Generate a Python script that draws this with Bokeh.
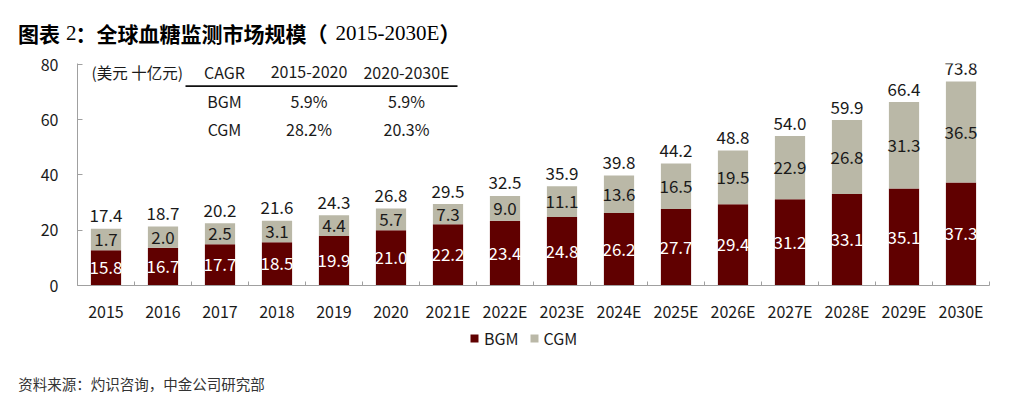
from bokeh.plotting import figure
from bokeh.models import ColumnDataSource, Range1d, FixedTicker, Legend, LegendItem
from bokeh.embed import file_html
from bokeh.resources import INLINE
from bokeh.core.properties import value

# ---------------- data ----------------
years = ["2015", "2016", "2017", "2018", "2019", "2020", "2021E", "2022E",
         "2023E", "2024E", "2025E", "2026E", "2027E", "2028E", "2029E", "2030E"]
bgm = [15.8, 16.7, 17.7, 18.5, 19.9, 21.0, 22.2, 23.4, 24.8, 26.2, 27.7, 29.4, 31.2, 33.1, 35.1, 37.3]
cgm = [1.7, 2.0, 2.5, 3.1, 4.4, 5.7, 7.3, 9.0, 11.1, 13.6, 16.5, 19.5, 22.9, 26.8, 31.3, 36.5]
total = [17.4, 18.7, 20.2, 21.6, 24.3, 26.8, 29.5, 32.5, 35.9, 39.8, 44.2, 48.8, 54.0, 59.9, 66.4, 73.8]
# segment heights as they are drawn in the reference picture
bgm_bar = [12.8, 13.7, 14.9, 15.7, 17.9, 20.0, 22.2, 23.4, 24.8, 26.2, 27.7, 29.4, 31.2, 33.1, 35.1, 37.3]
cgm_bar = [7.7, 7.7, 7.6, 7.7, 7.5, 7.9, 7.3, 9.0, 11.1, 13.6, 16.5, 19.5, 22.9, 26.8, 31.3, 36.5]

cagr_header = ["CAGR", "2015-2020", "2020-2030E"]
cagr_series = ["BGM", "CGM"]
cagr_1520 = ["5.9%", "28.2%"]
cagr_2030 = ["5.9%", "20.3%"]
unit_label = "(美元 十亿元)"
y_ticks = [0, 20, 40, 60, 80]
series_names = ["BGM", "CGM"]

title_parts = ["图表", "2", "：全球血糖监测市场规模（", "2015-2030E", "）"]
source_text = "资料来源：灼识咨询，中金公司研究部"

# ---------------- style / layout ----------------
FONT = "Noto Sans CJK SC"
SERIF = "Liberation Serif"
C_BGM = "#600000"
C_CGM = "#BAB8A7"
AXIS = "#A0A0A0"
TXT = "#1a1a1a"

W = 1008
H_HEAD, H_MAIN, H_FOOT = 52, 273, 67       # stacked roots: 0-52, 52-325, 325-392
FL, FT, FRAME_W, FRAME_H = 77, 11, 912, 223
FB = H_MAIN - FT - FRAME_H
FR = W - FL - FRAME_W
FRAME_TOP = H_HEAD + FT          # page y of frame top (63)
FRAME_BOT = FRAME_TOP + FRAME_H  # page y of frame bottom / zero line (286)
PPU = (FRAME_BOT - 64) / 80      # px per unit, 80 tick at page y 64
Y_END = (FRAME_BOT - FRAME_TOP) / PPU

n = len(years)
xs = [i + 0.5 for i in range(n)]


def dx(px):   # page px -> main data x
    return (px - FL) / (FRAME_W / n)


def dy(py):   # page px -> main data y
    return (FRAME_BOT - py) / PPU


def blank_fig(h, y0):
    f = figure(width=W, height=h, output_backend="svg", toolbar_location=None,
               x_range=Range1d(0, W), y_range=Range1d(y0 + h, y0),
               x_axis_type=None, y_axis_type=None,
               min_border=0, min_border_left=0, min_border_right=0,
               min_border_top=0, min_border_bottom=0)
    f.outline_line_color = None
    f.background_fill_color = "white"
    f.border_fill_color = "white"
    return f


# ---------------- header (title, mixed fonts) ----------------
head = blank_fig(H_HEAD, 0)
title_x = [17.5, 65.5, 75, 335, 439]
title_fonts = [FONT, SERIF, FONT, SERIF, FONT]
title_styles = ["bold", "normal", "bold", "normal", "bold"]
for t, tx, f, st in zip(title_parts, title_x, title_fonts, title_styles):
    head.text(x=[tx], y=[32], text=[t], text_font=value(f), text_font_style=st,
              text_font_size="21px", text_color="black", text_align="left",
              text_baseline="middle")

# ---------------- main chart ----------------
stack_top = [a + b for a, b in zip(bgm_bar, cgm_bar)]
src = ColumnDataSource(dict(
    x=xs,
    zero=[0] * n,
    bgm_top=bgm_bar,
    stack_top=stack_top,
    bgm_mid=[a / 2 for a in bgm_bar],
    cgm_mid=[a + b / 2 for a, b in zip(bgm_bar, cgm_bar)],
    bgm_lbl=["%.1f" % v for v in bgm],
    cgm_lbl=["%.1f" % v for v in cgm],
    tot_lbl=["%.1f" % v for v in total],
))

p = figure(width=W, height=H_MAIN, output_backend="svg", toolbar_location=None,
           x_range=Range1d(0, n), y_range=Range1d(0, Y_END),
           min_border_left=FL, min_border_right=FR, min_border_top=FT, min_border_bottom=FB)
p.outline_line_color = None
p.xgrid.visible = False
p.ygrid.visible = False
p.background_fill_color = "white"
p.border_fill_color = "white"

p.vbar(x="x", width=0.53, bottom="zero", top="bgm_top", fill_color=C_BGM,
       line_color=None, source=src)
p.vbar(x="x", width=0.53, bottom="bgm_top", top="stack_top", fill_color=C_CGM,
       line_color=None, source=src)

p.text(x="x", y="bgm_mid", text="bgm_lbl", source=src, text_font=value(FONT),
       text_font_size="17px", text_color="white", text_align="center", text_baseline="middle")
p.text(x="x", y="cgm_mid", text="cgm_lbl", source=src, text_font=value(FONT),
       text_font_size="17px", text_color=TXT, text_align="center", text_baseline="middle")
p.text(x="x", y="stack_top", text="tot_lbl", source=src, text_font=value(FONT),
       text_font_size="17px", text_color=TXT, text_align="center", text_baseline="middle",
       y_offset=-13)

yax = p.yaxis[0]
yax.ticker = FixedTicker(ticks=y_ticks)
yax.axis_line_color = AXIS
yax.major_tick_line_color = AXIS
yax.major_tick_in = 5
yax.major_tick_out = 0
yax.minor_tick_line_color = None
yax.major_label_text_font = FONT
yax.major_label_text_font_size = "16px"
yax.major_label_text_color = TXT
yax.major_label_standoff = 19

xax = p.xaxis[0]
xax.ticker = FixedTicker(ticks=xs, minor_ticks=list(range(n + 1)))
xax.major_label_overrides = {x: y for x, y in zip(xs, years)}
xax.axis_line_color = AXIS
xax.major_tick_line_color = None
xax.major_tick_in = 0
xax.major_tick_out = 0
xax.minor_tick_line_color = AXIS
xax.minor_tick_in = 4
xax.minor_tick_out = 0
xax.major_label_text_font = FONT
xax.major_label_text_font_size = "16px"
xax.major_label_text_color = TXT
xax.major_label_standoff = 13

# CAGR table (inside the frame)
p.text(x=[dx(91)], y=[dy(72)], text=[unit_label], text_font=value(FONT),
       text_font_size="15.5px", text_color=TXT, text_align="left", text_baseline="middle")
col_x = [224, 308.5, 406]
p.text(x=[dx(c) for c in col_x], y=[dy(72)] * 3, text=cagr_header, text_font=value(FONT),
       text_font_size="16px", text_color=TXT, text_align="center", text_baseline="middle")
row_y = [101, 129]
for i, ry in enumerate(row_y):
    p.text(x=[dx(c) for c in col_x], y=[dy(ry)] * 3,
           text=[cagr_series[i], cagr_1520[i], cagr_2030[i]], text_font=value(FONT),
           text_font_size="16px", text_color=TXT, text_align="center", text_baseline="middle")
p.segment(x0=[dx(185)], y0=[dy(85.7)], x1=[dx(457)], y1=[dy(85.7)],
          line_color="#111111", line_width=1.6)

# ---------------- footer (legend + source) ----------------
foot_top = H_HEAD + H_MAIN
foot = blank_fig(H_FOOT, foot_top)
# legend swatches: renderers outside the visible range, only used by the legend
lg_b = foot.vbar(x=[-100], top=[foot_top], bottom=[foot_top], width=1, fill_color=C_BGM, line_color=None)
lg_c = foot.vbar(x=[-100], top=[foot_top], bottom=[foot_top], width=1, fill_color=C_CGM, line_color=None)
legend = Legend(items=[LegendItem(label=series_names[0], renderers=[lg_b]),
                       LegendItem(label=series_names[1], renderers=[lg_c])],
                orientation="horizontal", location=(469, (foot_top + H_FOOT) - 350),
                glyph_width=10, glyph_height=10, label_standoff=5, spacing=10,
                padding=0, margin=0, border_line_color=None, background_fill_alpha=0,
                label_text_font=FONT, label_text_font_size="16px", label_text_color=TXT,
                label_height=20)
foot.add_layout(legend, "center")
foot.text(x=[17.7], y=[382.5], text=[source_text], text_font=value(FONT),
          text_font_size="14.5px", text_color="#333333", text_align="left",
          text_baseline="middle")

open("out.html", "w").write(file_html([head, p, foot], INLINE))
